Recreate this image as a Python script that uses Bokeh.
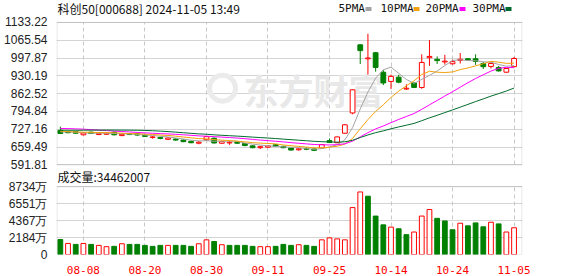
import numpy as np
from bokeh.plotting import figure
from bokeh.models import (ColumnDataSource, FixedTicker, Grid, BoxAnnotation,
                          CustomJSTickFormatter, Range1d)
from bokeh.core.properties import value
from bokeh.embed import file_html
from bokeh.resources import INLINE

# ---------------- data ----------------
title_text = "科创50[000688] 2024-11-05 13:49"
volume_title = "成交量"
volume_last = 34462007

dates = ["08-05", "08-06", "08-07", "08-08", "08-09", "08-12", "08-13", "08-14", "08-15", "08-16",
         "08-19", "08-20", "08-21", "08-22", "08-23", "08-26", "08-27", "08-28", "08-29", "08-30",
         "09-02", "09-03", "09-04", "09-05", "09-06", "09-09", "09-10", "09-11", "09-12", "09-13",
         "09-18", "09-19", "09-20", "09-23", "09-24", "09-25", "09-26", "09-27", "09-30", "10-08",
         "10-09", "10-10", "10-11", "10-14", "10-15", "10-16", "10-17", "10-18", "10-21", "10-22",
         "10-23", "10-24", "10-25", "10-28", "10-29", "10-30", "10-31", "11-01", "11-04", "11-05"]

opens = [723, 718, 718, 706, 716, 707, 708, 716, 703, 710,
         710, 704, 696, 696, 689, 690, 686, 681, 674, 687,
         693, 674, 675, 678, 673, 664, 657, 659, 668, 662,
         656, 649, 654, 652, 656, 684, 676, 712, 789, 1048,
         995, 1018, 944, 909, 925, 880, 903, 886, 999, 993,
         983, 976, 989, 995, 995, 977, 966, 962, 944, 965]
highs = [737, 720, 721, 715, 718, 714, 715, 718, 710, 713,
         712, 707, 701, 699, 697, 693, 688, 684, 683, 701,
         696, 683, 682, 681, 675, 666, 664, 667, 670, 664,
         658, 656, 659, 655, 670, 692, 699, 746, 878, 1050,
         1090, 1021, 952, 935, 934, 898, 905, 1012, 1066, 1004,
         1010, 992, 1017, 997, 1012, 983, 983, 968, 960, 1002]
lows = [709, 712, 711, 704, 710, 705, 706, 704, 701, 705,
        703, 698, 691, 689, 686, 683, 678, 674, 670, 685,
        673, 671, 668, 672, 663, 655, 652, 656, 660, 655,
        646, 646, 648, 644, 654, 675, 674, 710, 784, 975,
        935, 946, 895, 880, 902, 877, 884, 881, 968, 975,
        973, 973, 977, 988, 972, 956, 958, 946, 942, 962]
closes = [711, 714, 712, 713, 711, 712, 713, 706, 708, 707,
          705, 700, 698, 692, 694, 686, 680, 676, 678, 699,
          675, 680, 678, 674, 665, 657, 661, 664, 662, 657,
          648, 653, 651, 647, 669, 677, 698, 744, 877, 1026,
          998, 962, 903, 928, 906, 883, 886, 981, 1004, 988,
          986, 984, 993, 990, 985, 965, 977, 949, 958, 996]
# closes of the 29 sessions before 08-05 (needed for the moving averages)
prior_closes = [716, 712, 708, 705, 707, 703, 709, 712, 714, 716,
                722, 731, 738, 744, 750, 748, 745, 742, 739, 741,
                733, 727, 720, 716, 719, 714, 717, 721, 722]
# volume in 万 (10k shares)
volumes = [1932, 1428, 1302, 1428, 1302, 1176, 1008, 1050, 1386, 1302,
           1302, 1176, 1050, 1176, 1176, 1176, 1176, 1050, 1386, 1890,
           1680, 1260, 1176, 1176, 1176, 1050, 1008, 1008, 1050, 1302,
           1176, 1260, 1176, 1050, 1890, 2142, 2016, 1890, 6048, 8064,
           7518, 4956, 3822, 3528, 3318, 2562, 2898, 4956, 5796, 4662,
           4326, 3192, 4032, 3696, 4074, 3570, 4158, 3948, 2898, 3446.2007]

price_ticks = [591.81, 659.49, 727.16, 794.84, 862.52, 930.19, 997.87, 1065.54, 1133.22]
volume_ticks = [0, 2183.5, 4367, 6550.5, 8734]
volume_tick_labels = ["0", "2184万", "4367万", "6551万", "8734万"]
label_dates = ["08-08", "08-20", "08-30", "09-11", "09-25", "10-14", "10-24", "11-05"]
ma_periods = [5, 10, 20, 30]
ma_names = ["5PMA", "10PMA", "20PMA", "30PMA"]

# ---------------- style / layout ----------------
RED = "#ff0000"
GREEN = "#008000"
ma_colors = ["#a3a3a3", "#f2a10c", "#ff00ff", "#006b2d"]
GRID = "#d4d4d4"
VGRID = "#c8c8c8"
OUTLINE = "#999999"
LABEL = "#222222"
TXT = "#111111"

W, H = 578, 276
FL, FR = 56, 522          # frame left / right (page px)
FB = 255                  # frame bottom (page px); frame top is 0
PT, PB = 22, 165          # price box top / bottom (page px)
VT, VB = 187, 255         # volume box top / bottom (page px)
X0, X1 = -0.5, 60.1

n = len(dates)
xs = list(range(n))
label_idx = [dates.index(d) for d in label_dates]

full = np.array(prior_closes + closes, dtype=float)
k0 = len(prior_closes)
mas = {per: [float(full[k0 + i - per + 1:k0 + i + 1].mean()) for i in range(n)] for per in ma_periods}

up = [c > o for o, c in zip(opens, closes)]
prev_close = [prior_closes[-1]] + closes[:-1]
vol_up = [c > pc for c, pc in zip(closes, prev_close)]

src = ColumnDataSource(dict(
    x=xs, high=highs, low=lows,
    top=[max(o, c) for o, c in zip(opens, closes)],
    bottom=[min(o, c) for o, c in zip(opens, closes)],
    col=[RED if u else GREEN for u in up],
    fill=["white" if u else GREEN for u in up],
    vol=volumes,
    vcol=[RED if u else GREEN for u in vol_up],
    vfill=["white" if u else GREEN for u in vol_up],
))

pmin, pmax = price_ticks[0], price_ticks[-1]
kp = (pmax - pmin) / (PB - PT)            # price units per pixel
vmax = volume_ticks[-1]
kv = vmax / (VB - VT)                     # volume units per pixel


def px2x(px):
    return X0 + (px - FL) * (X1 - X0) / (FR - FL)


def py2price(py):
    return pmin + (PB - py) * kp


def py2vol(py):
    return (VB - py) * kv


def vol2price(vv):
    return py2price(VB - vv / kv)


# ---------------- one figure: price box above, volume box below ----------------
p = figure(width=W, height=H, output_backend="svg", toolbar_location=None,
           x_range=Range1d(X0, X1), y_range=Range1d(py2price(FB), py2price(0)),
           min_border_left=FL, min_border_right=W - FR, min_border_top=0,
           min_border_bottom=H - FB)
p.extra_y_ranges = {"vol": Range1d(py2vol(FB), py2vol(0))}
p.background_fill_color = "white"
p.border_fill_color = "white"
p.outline_line_color = None

# left axis carries the price ticks and the volume ticks (placed where the volume scale puts them)
axis_pos = list(price_ticks) + [vol2price(t) for t in volume_ticks]
axis_lab = [f"{t:.2f}" for t in price_ticks] + volume_tick_labels
p.yaxis.ticker = FixedTicker(ticks=axis_pos)
p.yaxis.formatter = CustomJSTickFormatter(args=dict(pos=axis_pos, labels=axis_lab), code="""
    let best = 0;
    for (let i = 1; i < pos.length; i++) {
        if (Math.abs(pos[i] - tick) < Math.abs(pos[best] - tick)) best = i;
    }
    return labels[best];
""")
p.yaxis.axis_line_color = None
p.yaxis.major_tick_line_color = None
p.yaxis.minor_tick_line_color = None
p.yaxis.major_label_standoff = 3
p.yaxis.major_label_text_font = "Liberation Sans"
p.yaxis.major_label_text_font_size = "12px"
p.yaxis.major_label_text_color = LABEL
p.ygrid.grid_line_color = GRID

p.xaxis.ticker = FixedTicker(ticks=label_idx)
p.xaxis.major_label_overrides = {i: dates[i] for i in label_idx}
p.xaxis.axis_line_color = None
p.xaxis.major_tick_line_color = None
p.xaxis.minor_tick_line_color = None
p.xaxis.major_label_standoff = 5
p.xaxis.major_label_text_font = "DejaVu Sans Mono"
p.xaxis.major_label_text_font_size = "11px"
p.xaxis.major_label_text_color = RED
p.xgrid.visible = False
for lo, hi in [(pmin, pmax), (vol2price(0), vol2price(vmax))]:
    p.add_layout(Grid(dimension=0, ticker=FixedTicker(ticks=label_idx), cross_bounds=(lo, hi),
                      grid_line_color=VGRID, grid_line_dash="4 3"))
p.add_layout(BoxAnnotation(left=px2x(FL + 0.5), right=px2x(FR - 0.5), bottom=pmin, top=pmax,
                           fill_color=None, line_color=OUTLINE, line_width=1))
p.add_layout(BoxAnnotation(left=px2x(FL + 0.5), right=px2x(FR - 0.5), bottom=0, top=vmax,
                           y_range_name="vol", fill_color=None, line_color=OUTLINE, line_width=1))

# watermark
p.scatter(x=[px2x(222)], y=[py2price(88)], size=26, marker="circle",
          fill_color=None, line_color="#ebebeb", line_width=5)
p.text(x=[px2x(243)], y=[py2price(89)], text=["东方财富"], text_font=value("Noto Sans CJK SC"),
       text_font_style="bold", text_font_size="35px", text_color="#e8e8e8",
       text_baseline="middle", text_align="left")

# candles
p.segment(x0="x", y0="high", x1="x", y1="low", color="col", line_width=1, source=src)
p.vbar(x="x", width=0.62, top="top", bottom="bottom", fill_color="fill",
       line_color="col", line_width=1, source=src)
for per, c in zip(ma_periods, ma_colors):
    p.line(xs, mas[per], line_color=c, line_width=1)

# volume bars
p.vbar(x="x", width=0.62, top="vol", bottom=0, fill_color="vfill",
       line_color="vcol", line_width=1, source=src, y_range_name="vol")

# header texts and MA legend
p.text(x=[px2x(57)], y=[py2price(8)], text=[title_text], text_font=value("Noto Sans CJK SC"),
       text_font_size="12px", text_color=TXT, text_baseline="middle", text_align="left")
leg_text_x = [338, 380, 425, 472]
leg_box_x = [365, 413, 459, 505]
p.text(x=[px2x(t) for t in leg_text_x], y=[py2price(8.5)] * 4, text=ma_names,
       text_font=value("DejaVu Sans Mono"), text_font_size="11px", text_color=TXT,
       text_baseline="middle", text_align="left")
p.quad(left=[px2x(b) for b in leg_box_x], right=[px2x(b + 6) for b in leg_box_x],
       top=[py2price(6.5)] * 4, bottom=[py2price(10.5)] * 4,
       fill_color=ma_colors, line_color=None)
p.text(x=[px2x(57)], y=[py2price(177)], text=[f"{volume_title}:{volume_last}"],
       text_font=value("Noto Sans CJK SC"), text_font_size="12px", text_color=TXT,
       text_baseline="middle", text_align="left")

open("out.html", "w").write(file_html(p, INLINE))
